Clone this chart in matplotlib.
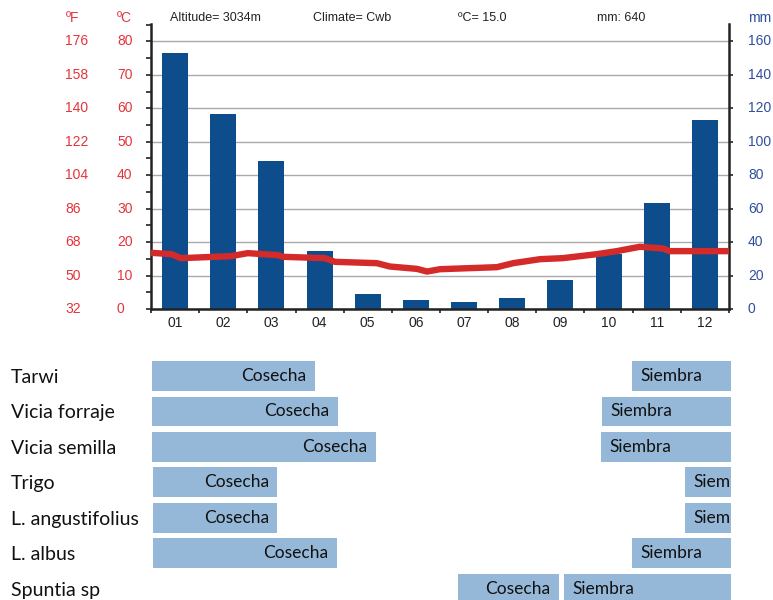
import matplotlib.pyplot as plt
from matplotlib import transforms
from matplotlib.ticker import MultipleLocator, NullFormatter

# climate data
months = ["01", "02", "03", "04", "05", "06", "07", "08", "09", "10", "11", "12"]
rain_mm = [153, 116.5, 88.5, 34.5, 9, 5.5, 4, 6.5, 17.5, 33, 63.5, 113]

# temperature trace (x in months from start of year, °C)
temp_x = [0.00, 0.42, 0.62, 1.66, 2.01, 2.64, 2.74, 3.61, 3.82, 4.69, 4.96, 5.52,
          5.73, 6.00, 7.18, 7.52, 8.08, 8.55, 9.26, 9.67, 10.15, 10.63, 10.77, 12.02]
temp_c = [16.8, 16.4, 15.2, 15.8, 16.7, 16.1, 15.6, 15.2, 14.1, 13.7, 12.7, 12.0,
          11.2, 11.9, 12.5, 13.7, 14.9, 15.2, 16.4, 17.3, 18.6, 18.1, 17.3, 17.3]

celsius_ticks = [0, 10, 20, 30, 40, 50, 60, 70, 80]
fahrenheit_ticks = [32, 50, 68, 86, 104, 122, 140, 158, 176]
mm_ticks = [0, 20, 40, 60, 80, 100, 120, 140, 160]

header = ["Altitude= 3034m", "Climate= Cwb", "ºC= 15.0", "mm: 640"]

# crop calendar (months from start of year)
crops = ["Tarwi", "Vicia forraje", "Vicia semilla", "Trigo",
         "L. angustifolius", "L. albus", "Spuntia sp"]
cosecha_start = [0.02, 0.02, 0.02, 0.04, 0.04, 0.04, 6.37]
cosecha_end = [3.40, 3.88, 4.67, 2.62, 2.62, 3.86, 8.47]
siembra_start = [9.99, 9.36, 9.34, 11.09, 11.09, 9.99, 8.57]
siembra_end = [12.04, 12.04, 12.04, 12.04, 12.04, 12.04, 12.04]
siembra_text = ["Siembra", "Siembra", "Siembra", "Siem", "Siem", "Siembra", "Siembra"]

W, H = 773, 600
RED = "#e5333b"
BLUE = "#2e4f9e"
DARK = "#222222"

plt.rcParams["font.family"] = ["Liberation Sans", "DejaVu Sans"]

fig = plt.figure(figsize=(W / 100, H / 100), dpi=100)


def px(x, y, w, h):
    return [x / W, 1 - (y + h) / H, w / W, h / H]


# rainfall axes (mm on the right)
ax = fig.add_axes(px(151, 24, 578, 285))
month_pos = [i + 0.5 for i in range(12)]
ax.bar(month_pos, rain_mm, width=0.54, color="#0d4d8c", zorder=2)
ax.set_xlim(0, 12)
ax.set_ylim(0, 170.4)
ax.set_axisbelow(True)
ax.grid(axis="y", color="#aaaaaa", lw=1.0)
ax.set_xticks(range(13))
ax.xaxis.set_major_formatter(NullFormatter())
ax.set_xticks(month_pos, minor=True)
ax.set_xticklabels(months, minor=True)
ax.tick_params(axis="x", which="major", direction="out", length=3, width=1.2, color=DARK)
ax.tick_params(axis="x", which="minor", length=0, labelsize=10, labelcolor=DARK, pad=5)
ax.spines["top"].set_visible(False)
for side in ["left", "right", "bottom"]:
    ax.spines[side].set_linewidth(1.8)
    ax.spines[side].set_color(DARK)

# temperature axes (°C on the left)
axT = ax.twinx()
axT.set_ylim(0, 85.2)
axT.yaxis.tick_left()
axT.yaxis.set_major_locator(MultipleLocator(5))
axT.tick_params(axis="y", direction="out", length=3.6, width=1.2, color=DARK,
                labelleft=False, labelright=False)
for s in axT.spines.values():
    s.set_visible(False)
axT.plot(temp_x, temp_c, color="#d42a2a", lw=4.6, solid_joinstyle="round",
         solid_capstyle="butt", zorder=3)

# twinx moves the first axis to the left, so put mm back on the right
ax.yaxis.tick_right()
ax.set_yticks(mm_ticks)
ax.tick_params(axis="y", direction="out", length=3, width=1.2, color=DARK,
               left=False, labelleft=False, labelright=False)

trans_mm = transforms.blended_transform_factory(fig.transFigure, ax.transData)
for v in mm_ticks:
    fig.text(748 / W, v, str(v), transform=trans_mm, color=BLUE, fontsize=10,
             ha="left", va="center")

trans_t = transforms.blended_transform_factory(fig.transFigure, axT.transData)
for c, f in zip(celsius_ticks, fahrenheit_ticks):
    fig.text(117 / W, c, str(c), transform=trans_t, color=RED, fontsize=10,
             ha="left", va="center")
    fig.text(65 / W, c, str(f), transform=trans_t, color=RED, fontsize=10,
             ha="left", va="center")

fig.text(66 / W, 1 - 18 / H, "ºF", color=RED, fontsize=10, va="center")
fig.text(117 / W, 1 - 18 / H, "ºC", color=RED, fontsize=10, va="center")
fig.text(748 / W, 1 - 18 / H, "mm", color=BLUE, fontsize=10, va="center")
for x, s in zip([170, 313, 458, 597], header):
    fig.text(x / W, 1 - 18 / H, s, color=DARK, fontsize=9, va="center")

# crop calendar
ax2 = fig.add_axes(px(151, 358.25, 578, 241.75))
ax2.set_xlim(0, 12)
ax2.set_ylim(6.31, -0.5)
ax2.axis("off")
rows = list(range(len(crops)))
light = "#95b8d8"
ax2.barh(rows, [e - s for s, e in zip(cosecha_start, cosecha_end)], left=cosecha_start,
         height=0.845, color=light)
ax2.barh(rows, [e - s for s, e in zip(siembra_start, siembra_end)], left=siembra_start,
         height=0.845, color=light, clip_on=False)

font2 = ["Lato", "DejaVu Sans"]
for r in rows:
    ax2.annotate("Cosecha", xy=(cosecha_end[r], r), xytext=(-6, 0), textcoords="offset points",
                 ha="right", va="center", fontsize=12.5, family=font2, color="#111111")
    ax2.annotate(siembra_text[r], xy=(siembra_start[r], r), xytext=(6, 0),
                 textcoords="offset points", ha="left", va="center", fontsize=12.5,
                 family=font2, color="#111111")

trans_c = transforms.blended_transform_factory(fig.transFigure, ax2.transData)
for r, name in zip(rows, crops):
    fig.text(11 / W, r, name, transform=trans_c, ha="left", va="center_baseline",
             fontsize=14, family=font2, color="#111111")

fig.savefig("out.png", dpi=100)
